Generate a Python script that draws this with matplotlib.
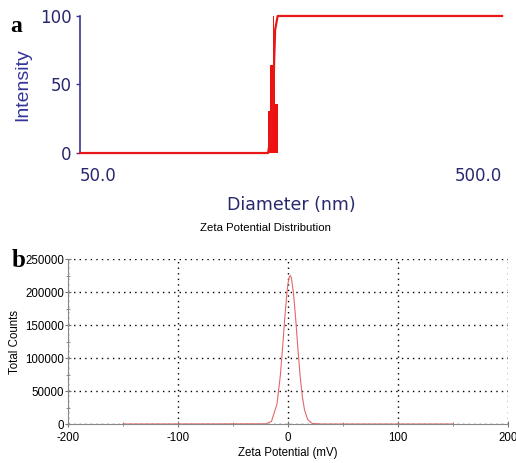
import matplotlib.pyplot as plt
from matplotlib.ticker import FixedLocator, NullLocator

# panel a: size distribution (log diameter axis)
bin_edges = [139.5, 141.2, 143.3, 144.3, 145.0, 147.0]
bin_intensity = [31, 64, 100, 72, 36]
cum_diam = [50, 139.5, 141.2, 143.3, 144.3, 145.0, 147.0, 500]
cum_intensity = [0, 0, 10, 35, 70, 90, 100, 100]
a_xticks = [50, 500]
a_xticklabels = ["50.0", "500.0"]
a_yticks = [0, 50, 100]

# panel b: zeta potential distribution
zeta_mv = [-150, -20, -15, -10, -7, -5, -3, -1, 0, 1, 2, 3, 5, 7, 9, 11, 13, 15, 18, 22, 30, 150]
total_counts = [0, 300, 4000, 30500, 73000, 114000, 159000, 198000, 213000, 222000, 225000,
                222000, 198000, 159000, 114000, 73000, 42000, 21500, 6400, 900, 0, 0]
b_xticks = [-200, -100, 0, 100, 200]
b_yticks = [0, 50000, 100000, 150000, 200000, 250000]

plt.rcParams['font.family'] = ['Liberation Sans', 'DejaVu Sans']
plt.rcParams['axes.unicode_minus'] = False

fig = plt.figure(figsize=(5.16, 4.63), dpi=100)

# ---------- panel a ----------
navy = '#28286e'
ax1 = fig.add_axes([0.155, 0.6695, 0.818, 0.296])
ax1.set_xscale('log')
ax1.set_xlim(50, 500)
ax1.set_ylim(0, 100)
ax1.stairs(bin_intensity, bin_edges, fill=True, color='#ee1111', lw=0)
ax1.plot(cum_diam, cum_intensity, color='#e81818', lw=1.6, clip_on=False, zorder=3)
for s in ['top', 'right', 'bottom']:
    ax1.spines[s].set_visible(False)
ax1.spines['left'].set_color('#3535a0')
ax1.spines['left'].set_linewidth(1.2)
ax1.xaxis.set_major_locator(FixedLocator(a_xticks))
ax1.xaxis.set_minor_locator(NullLocator())
ax1.set_xticklabels(a_xticklabels, family='DejaVu Sans')
ax1.set_yticks(a_yticks)
ax1.set_yticklabels([str(v) for v in a_yticks], family='DejaVu Sans')
xl = ax1.get_xticklabels()
xl[0].set_ha('left')
xl[1].set_ha('right')
ax1.tick_params(axis='x', length=0, pad=10, labelsize=12, labelcolor=navy)
ax1.tick_params(axis='y', length=3, width=1, color='#3535a0', pad=3, labelsize=12, labelcolor=navy)
ax1.set_ylabel('Intensity', color='#35359a', fontsize=14, labelpad=6)
ax1.set_xlabel('Diameter (nm)', color=navy, fontsize=12.5, family='DejaVu Sans', labelpad=8)
fig.text(0.019, 0.931, 'a', family='Liberation Serif', fontweight='bold', fontsize=17)

fig.text(0.514, 0.507, 'Zeta Potential Distribution', ha='center', va='center', fontsize=8.2)

# ---------- panel b ----------
ax2 = fig.add_axes([0.1318, 0.0842, 0.8527, 0.3564])
ax2.plot(zeta_mv, total_counts, color='#e06a6a', lw=0.8, zorder=3)
ax2.set_xlim(-200, 200)
ax2.set_ylim(0, 250000)
ax2.set_xticks(b_xticks)
ax2.set_xticks([-150, -50, 50, 150], minor=True)
ax2.set_yticks(b_yticks)
ax2.set_yticks([25000, 75000, 125000, 175000, 225000], minor=True)
ax2.grid(True, which='major', color='black', linestyle=(0, (1, 3)), linewidth=1)
for s in ['top', 'right']:
    ax2.spines[s].set_visible(False)
for s in ['left', 'bottom']:
    ax2.spines[s].set_color('#888888')
ax2.tick_params(which='both', direction='inout', length=4, color='#777777', labelsize=8.3)
ax2.tick_params(which='minor', length=3)
ax2.tick_params(axis='x', pad=4)
ax2.tick_params(axis='y', pad=1)
ax2.set_xlabel('Zeta Potential (mV)', fontsize=8.3, labelpad=2)
ax2.set_ylabel('Total Counts', fontsize=8.3, labelpad=3)
fig.text(0.022, 0.423, 'b', family='Liberation Serif', fontweight='bold', fontsize=18)

fig.savefig('out.png', dpi=100)
